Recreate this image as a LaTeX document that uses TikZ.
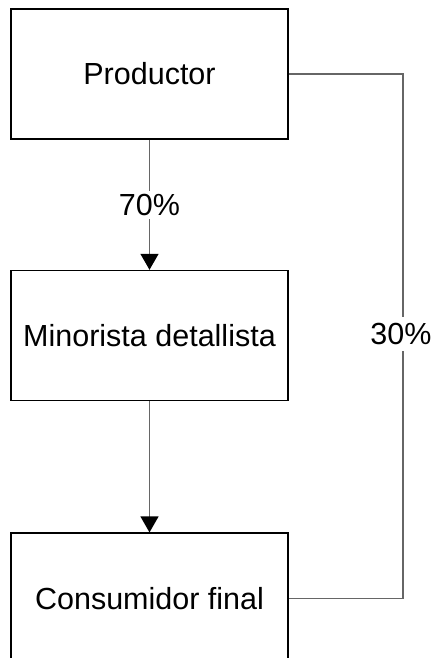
\documentclass[tikz,border=0pt]{standalone}
\usepackage{fontspec}
\setmainfont{Liberation Sans}
\usetikzlibrary{positioning,arrows.meta}

\begin{document}
\begin{tikzpicture}[x=1pt,y=-1pt,font=\fontsize{30.5}{36}\selectfont,
  caja/.style={draw,line width=1.6pt,minimum width=277pt,minimum height=130pt,inner sep=0pt},
  linea/.style={draw=black!60,line width=1.3pt},
  flecha/.style={linea,-{Triangle[length=16pt,width=18pt,fill=black,color=black]}}]
\useasboundingbox (0,0) rectangle (432,658);

% cajas
\node[caja] (prod) at (149.5,74) {Productor};
\node[caja,below=130pt of prod] (mino) {Minorista detallista};
\node[caja,below=131pt of mino] (cons) {Consumidor final};

% flechas
\draw[flecha] (prod) -- node[fill=white,inner sep=3pt] (p70) {70\%} (mino);
\draw[flecha] (mino) -- (cons);

% via directa
\coordinate (via) at (403,334);
\node[fill=white,inner xsep=0pt,inner ysep=6pt] (p30) at (401,334) {30\%};
\draw[linea] (prod.east) -| (via |- p30.north);
\draw[linea] (via |- p30.south) |- (cons.east);
\end{tikzpicture}
\end{document}
